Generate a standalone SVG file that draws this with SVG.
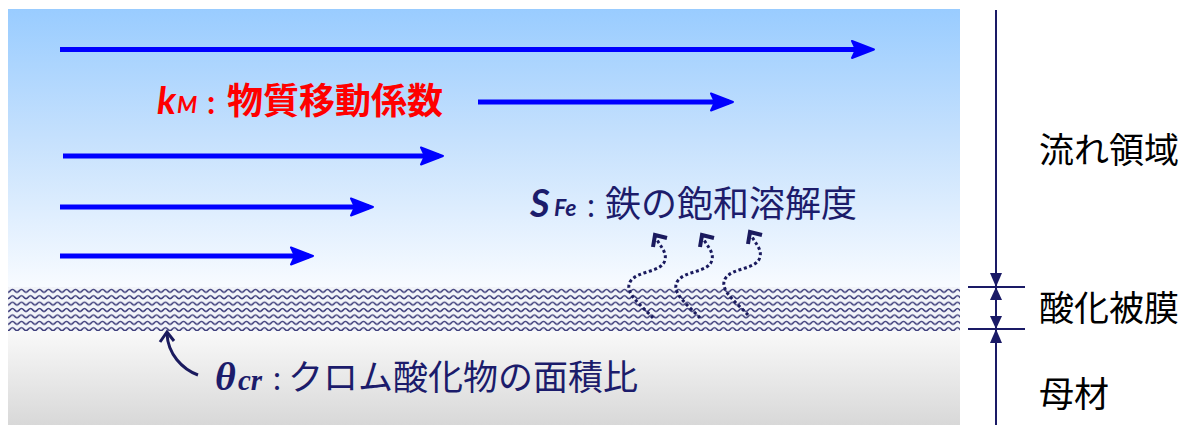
<svg xmlns="http://www.w3.org/2000/svg" width="1193" height="425" viewBox="0 0 1193 425">
<defs>
<linearGradient id="flow" x1="0" y1="0" x2="0" y2="1">
<stop offset="0" stop-color="#99CCFF"/>
<stop offset="0.45" stop-color="#C4E0FD"/>
<stop offset="1" stop-color="#F8FBFF"/>
</linearGradient>
<linearGradient id="base" x1="0" y1="0" x2="0" y2="1">
<stop offset="0" stop-color="#F9F9F9"/>
<stop offset="1" stop-color="#D8D8D8"/>
</linearGradient>
<pattern id="wave" x="8" y="288" width="9" height="6.4" patternUnits="userSpaceOnUse">
<rect width="9" height="6.4" fill="#F2F4F9"/>
<path d="M0,4.2 C2,4.2 2.4,1.4 4.5,1.4 C6.6,1.4 7,4.2 9,4.2" fill="none" stroke="#3A3A78" stroke-width="1.5"/>
</pattern>
<marker id="blueHead" markerUnits="userSpaceOnUse" viewBox="-22 -12 28 24" markerWidth="28" markerHeight="24" refX="0" refY="0" orient="auto" overflow="visible">
<path d="M-18,-8.5 L4,0 L-18,8.5 L-14,0 Z" fill="#0000FF" stroke="#0000FF" stroke-width="2" stroke-linejoin="round"/>
</marker>
</defs>
<style>
.blue{stroke:#0000FF;stroke-width:5;fill:none;marker-end:url(#blueHead)}
.navy{stroke:#1A1A66;stroke-width:2;fill:none}
.dot{stroke:#1A1A5E;stroke-width:3;fill:none;stroke-dasharray:3 2.6}
.head{stroke:#1A1A5E;stroke-width:4;fill:none;stroke-linejoin:miter}
.tri{fill:#1A1A66}
.jp{font-family:"Noto Sans CJK JP","Noto Sans",sans-serif}
.lbl{font-family:"Noto Sans CJK JP",sans-serif;font-size:35px;fill:#000}
.nv{fill:#1C1C6B}
</style>

<g id="background">
<rect x="8" y="9" width="952" height="279" fill="url(#flow)"/>
<rect x="8" y="331" width="952" height="94" fill="url(#base)"/>
</g>
<g id="oxide-layer">
<rect x="8" y="287" width="952" height="44" fill="url(#wave)"/>
</g>

<g id="connectors">
<line class="blue" x1="60" y1="49.5" x2="870" y2="49.5"/>
<line class="blue" x1="478" y1="102" x2="729" y2="102"/>
<line class="blue" x1="63" y1="156" x2="439" y2="156"/>
<line class="blue" x1="60" y1="207" x2="369" y2="207"/>
<line class="blue" x1="60" y1="256" x2="309" y2="256"/>

<g id="diffusion-arrows">
<path class="dot" d="M653,318 C642,306 624,293 630,282 C637,270 662,273 665,260 C667,252 660,246 656,238"/>
<path class="head" d="M653,247 L655,235 L667,238"/>
<path class="dot" d="M700,318 C689,306 671,293 677,282 C684,270 709,273 712,260 C714,252 707,246 703,238"/>
<path class="head" d="M700,247 L702,235 L714,238"/>
<path class="dot" d="M748,315 C737,303 719,290 725,279 C732,267 757,270 760,257 C762,249 755,243 751,235"/>
<path class="head" d="M748,244 L750,232 L762,235"/>
</g>

<g id="theta-pointer">
<path d="M198,375 C182,369 168,354 167,334" stroke="#1A1A5E" stroke-width="3" fill="none"/>
<path d="M160,342 L167,332 L174,341" stroke="#1A1A5E" stroke-width="3" fill="none"/>
</g>

<g id="dimension">
<line class="navy" x1="996" y1="10" x2="996" y2="425"/>
<line class="navy" x1="968" y1="287" x2="1025" y2="287"/>
<line class="navy" x1="968" y1="329" x2="1025" y2="329"/>
<polygon class="tri" points="990,273 1002,273 996,287"/>
<polygon class="tri" points="996,287 990,300 1002,300"/>
<polygon class="tri" points="990,316 1002,316 996,329"/>
<polygon class="tri" points="996,329 990,343 1002,343"/>
</g>
</g>

<g id="label-km">
<text y="114" fill="#FF0000" font-weight="bold"><tspan x="157" font-family="Lato,'Open Sans',sans-serif" font-style="italic" font-size="38">k</tspan><tspan x="177" font-family="Lato,'Open Sans',sans-serif" font-style="italic" font-size="23" y="113">M</tspan><tspan x="207" y="114" font-family="Lato,sans-serif" font-size="32">:</tspan><tspan x="227" class="jp" font-size="36">物質移動係数</tspan></text>
</g>

<g id="label-sfe">
<text y="217" class="nv"><tspan x="530" font-family="Lato,'Open Sans',sans-serif" font-weight="bold" font-style="italic" font-size="38">S</tspan><tspan x="554" font-family="Lato,'Open Sans',sans-serif" font-weight="bold" font-style="italic" font-size="23" y="216">Fe</tspan><tspan x="587" y="217" font-family="Lato,sans-serif" font-size="32">:</tspan><tspan x="605" class="jp" font-size="36">鉄の飽和溶解度</tspan></text>
</g>

<g id="label-theta">
<text y="390" class="nv" font-family="'Liberation Serif',serif" font-weight="bold" font-style="italic"><tspan x="215" font-size="40">θ</tspan><tspan x="238" font-size="29">cr</tspan><tspan x="273" font-family="Lato,sans-serif" font-weight="normal" font-style="normal" font-size="32">:</tspan><tspan x="288" class="jp" font-weight="normal" font-style="normal" font-size="35">クロム酸化物の面積比</tspan></text>
</g>

<g id="label-flow"><text class="lbl" x="1039" y="163">流れ領域</text></g>
<g id="label-oxide"><text class="lbl" x="1039" y="321">酸化被膜</text></g>
<g id="label-base"><text class="lbl" x="1039" y="407">母材</text></g>
</svg>
